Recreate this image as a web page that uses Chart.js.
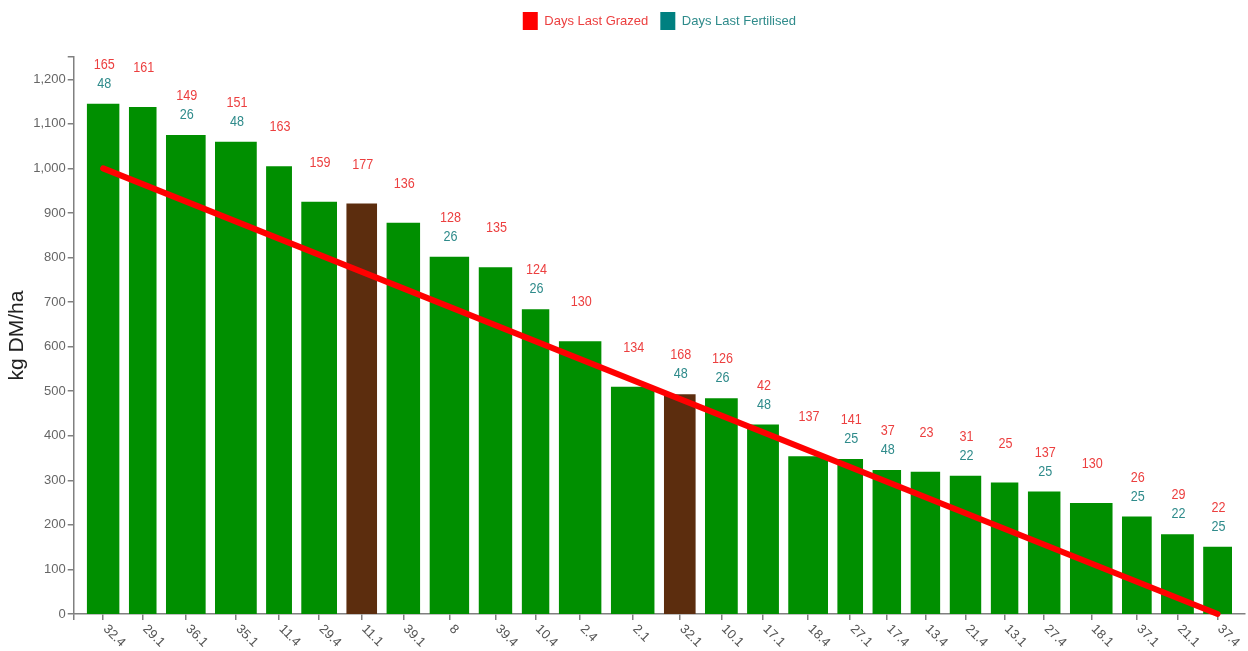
<!DOCTYPE html>
<html>
<head>
<meta charset="utf-8">
<title>Grazing wedge</title>
<script src="https://cdn.jsdelivr.net/npm/chart.js@4.4.1/dist/chart.umd.min.js"></script>
<style>
    html, body { margin: 0; padding: 0; background: #ffffff; }
    #wrap { position: relative; width: 1248px; height: 651px; }
</style>
</head>
<body>
<div id="wrap"><canvas id="wedgeChart"></canvas></div>
<script>
        // Paddocks in wedge order (highest cover first)
        const paddocks = ['32.4', '29.1', '36.1', '35.1', '11.4', '29.4', '11.1', '39.1', '8', '39.4', '10.4', '2.4', '2.1', '32.1',
            '10.1', '17.1', '18.4', '27.1', '17.4', '13.4', '21.4', '13.1', '27.4', '18.1', '37.1', '21.1', '37.4'];

        // Pasture cover, kg DM/ha
        const cover = [1145, 1138, 1075, 1060, 1005, 925, 921, 878, 802, 778, 684, 612, 510, 493,
            484, 425, 354, 348, 323, 319, 310, 295, 275, 249, 219, 179, 151];

        // Paddock area (ha) -> bar width
        const areas = [3.3, 2.8, 4.0, 4.2, 2.6, 3.6, 3.1, 3.4, 4.0, 3.4, 2.8, 4.3, 4.4, 3.2,
            3.3, 3.2, 4.0, 2.6, 2.9, 3.0, 3.2, 2.8, 3.3, 4.3, 3.0, 3.3, 2.9];

        // Paddocks shut up / not in the round (drawn brown)
        const closed = [false, false, false, false, false, false, true, false, false, false, false, false, false, true,
            false, false, false, false, false, false, false, false, false, false, false, false, false];

        const daysGrazed = [165, 161, 149, 151, 163, 159, 177, 136, 128, 135, 124, 130, 134, 168,
            126, 42, 137, 141, 37, 23, 31, 25, 137, 130, 26, 29, 22];

        const daysFertilised = [48, null, 26, 48, null, null, null, null, 26, null, 26, null, null, 48,
            26, 48, null, 25, 48, null, 22, null, 25, null, 25, 22, 25];

        // Target wedge line: first paddock -> last paddock
        const targetLine = [1000, 0];

        const yTicks = { min: 0, max: 1250, step: 100 };

        // Colores
        const GREEN = '#008f00';
        const BROWN = '#5c2d0e';
        const RED = '#ff0000';
        const RED_TEXT = '#ec3f3f';
        const TEAL = '#008080';
        const TEAL_TEXT = '#2f8b8b';
        const AXIS = '#808080';
        const FONT = "'Liberation Sans', Arial, sans-serif";

        // Bar positions along the x axis (area units)
        const GAP = 0.92;
        const EDGE = 1.3;
        const lefts = [], rights = [], centers = [];
        let cursor = EDGE;
        areas.forEach((a, i) => {
            if (i > 0) cursor += GAP;
            lefts.push(cursor);
            cursor += a;
            rights.push(cursor);
            centers.push((lefts[i] + rights[i]) / 2);
        });
        const xMax = cursor + EDGE;

        // Each paddock is a filled block from its left to right edge
        const barSets = paddocks.map((name, i) => ({
            type: 'line',
            label: name,
            data: [{ x: lefts[i], y: cover[i] }, { x: rights[i], y: cover[i] }],
            fill: 'origin',
            backgroundColor: closed[i] ? BROWN : GREEN,
            borderWidth: 0,
            pointRadius: 0,
            pointHoverRadius: 0,
            order: 2
        }));

        const lineSet = {
            type: 'line',
            label: 'Target',
            data: [{ x: centers[0], y: targetLine[0] }, { x: centers[centers.length - 1], y: targetLine[1] }],
            borderColor: RED,
            borderWidth: 6,
            borderCapStyle: 'round',
            pointRadius: 0,
            fill: false,
            clip: false,
            order: 0
        };

        // narrow-looking text
        function narrowText(ctx, text, x, y) {
            ctx.save();
            ctx.translate(x, y);
            ctx.scale(0.84, 1);
            ctx.fillText(text, 0, 0);
            ctx.restore();
        }

        // Numbers above bars + rotated paddock names
        const wedgeLabels = {
            id: 'wedgeLabels',
            beforeInit(chart) {
                // extra room under the legend
                const fit = chart.legend.fit;
                chart.legend.fit = function () {
                    fit.call(this);
                    this.height += 17;
                };
            },
            afterDatasetsDraw(chart) {
                const ctx = chart.ctx;
                const xs = chart.scales.x, ys = chart.scales.y;
                ctx.save();
                ctx.font = '15px ' + FONT;
                ctx.textAlign = 'center';
                ctx.textBaseline = 'middle';
                cover.forEach((v, i) => {
                    const x = xs.getPixelForValue(centers[i]) + 1;
                    const top = ys.getPixelForValue(v);
                    ctx.fillStyle = RED_TEXT;
                    narrowText(ctx, String(daysGrazed[i]), x, top - 39);
                    if (daysFertilised[i] !== null) {
                        ctx.fillStyle = TEAL_TEXT;
                        narrowText(ctx, String(daysFertilised[i]), x, top - 20);
                    }
                });
                ctx.restore();
            },
            afterDraw(chart) {
                const ctx = chart.ctx;
                const xs = chart.scales.x;
                const base = chart.scales.y.getPixelForValue(0);
                ctx.save();
                ctx.font = '13px ' + FONT;
                ctx.fillStyle = '#555555';
                ctx.textAlign = 'left';
                ctx.textBaseline = 'middle';
                paddocks.forEach((name, i) => {
                    ctx.save();
                    ctx.translate(xs.getPixelForValue(centers[i]) + 2, base + 13);
                    ctx.rotate(Math.PI / 4);
                    ctx.fillText(name, 0, 0);
                    ctx.restore();
                });
                ctx.restore();
            }
        };

        Chart.defaults.font.family = FONT;

        const ctx = document.getElementById('wedgeChart').getContext('2d');
        const wedgeChart = new Chart(ctx, {
            data: { datasets: [lineSet, ...barSets] },
            options: {
                responsive: true,
                maintainAspectRatio: false,
                animation: false,
                layout: { padding: { top: 0, left: 0, right: 3, bottom: 31 } },
                plugins: {
                    tooltip: { enabled: false },
                    legend: {
                        position: 'top',
                        fullSize: false,
                        onClick: null,
                        labels: {
                            boxWidth: 15,
                            boxHeight: 18,
                            padding: 12,
                            font: { size: 13 },
                            generateLabels: () => [
                                { text: 'Days Last Grazed', fillStyle: RED, strokeStyle: RED, lineWidth: 0, fontColor: RED_TEXT },
                                { text: 'Days Last Fertilised', fillStyle: TEAL, strokeStyle: TEAL, lineWidth: 0, fontColor: TEAL_TEXT }
                            ]
                        }
                    }
                },
                scales: {
                    x: {
                        type: 'linear',
                        min: 0,
                        max: xMax,
                        afterBuildTicks: (scale) => {
                            scale.ticks = [{ value: 0 }, ...centers.map(c => ({ value: c }))];
                        },
                        ticks: { display: false, autoSkip: false },
                        grid: { drawOnChartArea: false, drawTicks: true, tickLength: 6, color: AXIS, lineWidth: 1.5 },
                        border: { color: AXIS, width: 1.5 }
                    },
                    y: {
                        min: yTicks.min,
                        max: yTicks.max,
                        ticks: {
                            stepSize: yTicks.step,
                            color: '#666666',
                            font: { size: 13 },
                            padding: 2,
                            callback: (value) => value > 1200 ? '' : value.toLocaleString('en-US')
                        },
                        grid: { drawOnChartArea: false, drawTicks: true, tickLength: 6, color: AXIS, lineWidth: 1.5 },
                        border: { color: AXIS, width: 1.5 },
                        title: {
                            display: true,
                            text: 'kg DM/ha',
                            color: '#222222',
                            font: { size: 21 },
                            padding: { top: 5, bottom: 1 }
                        }
                    }
                }
            },
            plugins: [wedgeLabels]
        });
</script>
</body>
</html>
